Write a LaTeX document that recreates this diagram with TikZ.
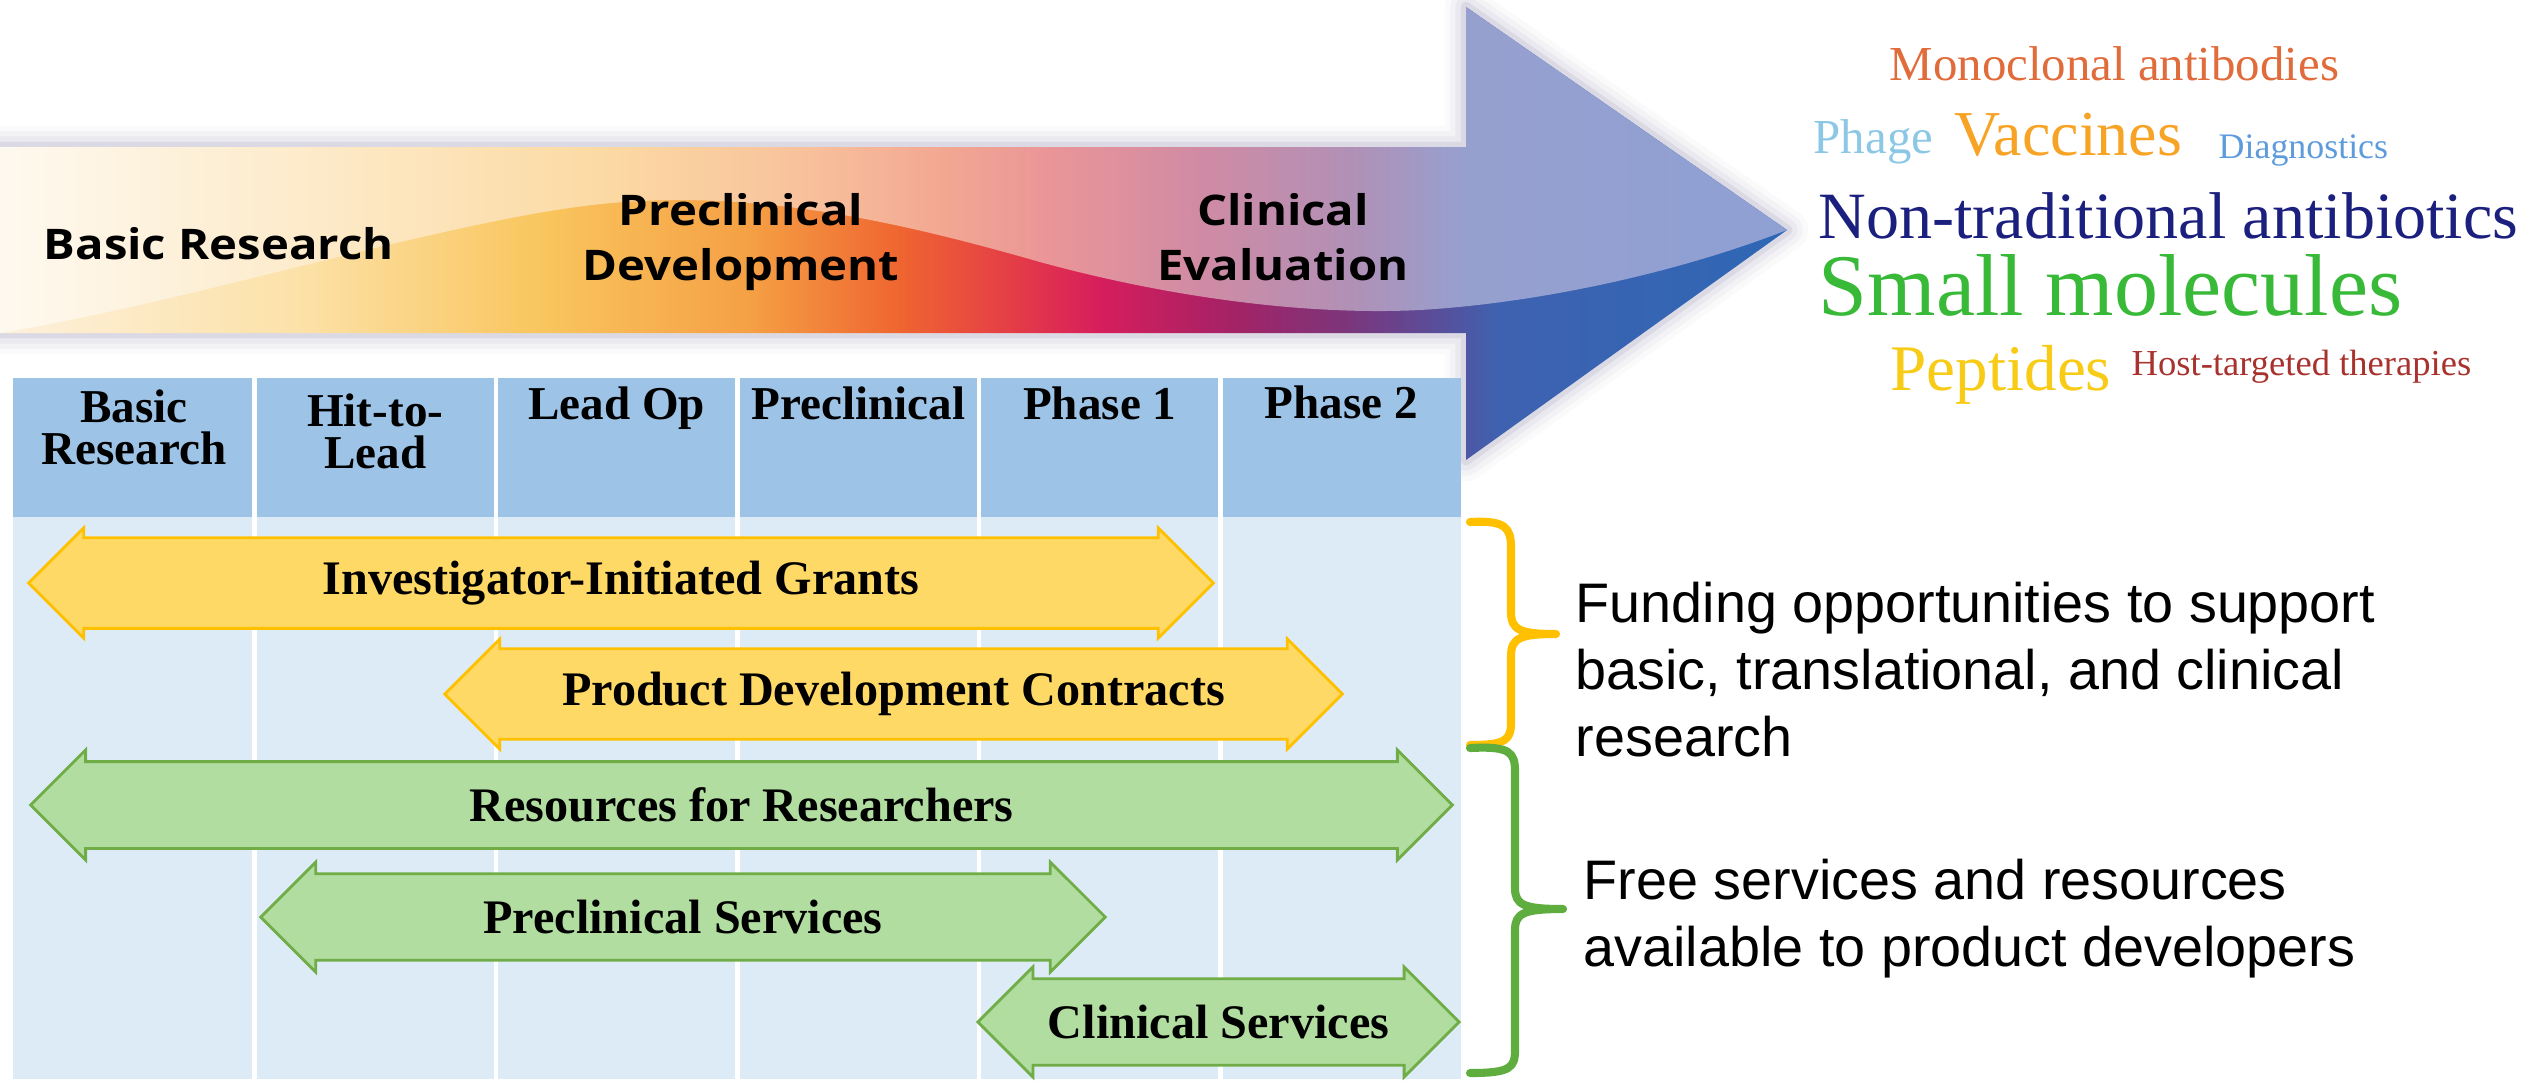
\documentclass[tikz,border=0pt]{standalone}
\usepackage{fontspec}
\setmainfont{Liberation Serif}
\newfontfamily\notefont{Liberation Sans}
\newfontfamily\stagefont{Open Sans}[FakeStretch=1.12]
\newfontfamily\cloudfont{Liberation Serif}
\usetikzlibrary{shapes.arrows}
\definecolor{headblue}{RGB}{157,195,230}
\definecolor{bodyblue}{RGB}{221,235,247}
\definecolor{fundfill}{RGB}{255,217,102}
\definecolor{fundline}{RGB}{255,192,0}
\definecolor{servfill}{RGB}{177,221,160}
\definecolor{servline}{RGB}{112,173,71}
\definecolor{bracegreen}{RGB}{94,173,62}
\definecolor{glow}{RGB}{90,80,130}
%% colours of the stage arrow, saturated band
\definecolor{lowA}{HTML}{FDF1DC}
\definecolor{lowB}{HTML}{FCE1A8}
\definecolor{lowC}{HTML}{F9C65E}
\definecolor{lowD}{HTML}{F5A044}
\definecolor{lowE}{HTML}{EF6530}
\definecolor{lowF}{HTML}{E33A48}
\definecolor{lowG}{HTML}{D61E5C}
\definecolor{lowH}{HTML}{A52266}
\definecolor{lowI}{HTML}{7E3479}
\definecolor{lowJ}{HTML}{5C4C98}
\definecolor{lowK}{HTML}{3E62B0}
\definecolor{lowL}{HTML}{2E67B5}
%% light part above the wave
\definecolor{highA}{HTML}{FEF9EF}
\definecolor{highB}{HTML}{FDEBCB}
\definecolor{highC}{HTML}{FCDAA4}
\definecolor{highD}{HTML}{F8C29C}
\definecolor{highE}{HTML}{F2A692}
\definecolor{highF}{HTML}{EA9598}
\definecolor{highG}{HTML}{D08BA4}
\definecolor{highH}{HTML}{B190B6}
\definecolor{highI}{HTML}{96A0CF}
\definecolor{highJ}{HTML}{8FA0D3}
%% word cloud
\definecolor{monoclr}{RGB}{224,108,60}
\definecolor{phageclr}{RGB}{140,200,230}
\definecolor{vaccclr}{RGB}{247,163,37}
\definecolor{diagclr}{RGB}{93,155,220}
\definecolor{nontradclr}{RGB}{27,31,126}
\definecolor{smallclr}{RGB}{56,185,56}
\definecolor{peptclr}{RGB}{247,203,22}
\definecolor{hostclr}{RGB}{168,50,45}
\pgfdeclarehorizontalshading{stagelow}{100bp}{color(0bp)=(lowA); color(25bp)=(lowA);
  color(33.39bp)=(lowB); color(40.11bp)=(lowC); color(45.98bp)=(lowD); color(50.18bp)=(lowE);
  color(53.54bp)=(lowF); color(55.78bp)=(lowG); color(59.41bp)=(lowH); color(62.49bp)=(lowI);
  color(65.01bp)=(lowJ); color(66.97bp)=(lowK); color(75bp)=(lowL); color(100bp)=(lowL)}
\pgfdeclarehorizontalshading{stagehigh}{100bp}{color(0bp)=(highA); color(25bp)=(highA);
  color(33.39bp)=(highB); color(41.79bp)=(highC); color(47.38bp)=(highD); color(51.58bp)=(highE);
  color(54.38bp)=(highF); color(58.58bp)=(highG); color(62.78bp)=(highH); color(65.99bp)=(highI);
  color(75bp)=(highJ); color(100bp)=(highJ)}
\tikzstyle{phase}=[anchor=north, align=center, inner sep=0pt, font=\fontsize{13.4}{12}\selectfont\bfseries]
\tikzstyle{bar}=[shape=double arrow, double arrow tip angle=90, double arrow head extend=0.05cm, minimum width=1.1cm, inner sep=0pt, line width=0.8pt, font=\fontsize{13.7}{16}\selectfont\bfseries]
\tikzstyle{funding}=[bar, fill=fundfill, draw=fundline]
\tikzstyle{service}=[bar, fill=servfill, draw=servline]
\tikzstyle{stage}=[align=center, inner sep=0pt, font=\stagefont\fontsize{12}{15.6}\selectfont\bfseries]
\tikzstyle{note}=[anchor=north west, align=left, inner sep=0pt, font=\notefont\fontsize{15.85}{19.1}\selectfont]
\tikzstyle{cloud}=[anchor=base west, inner sep=0pt]
\tikzstyle{brace}=[line width=2.3pt, line cap=round, line join=round]
\begin{document}
\begin{tikzpicture}[x=0.01cm, y=-0.01cm]
  \useasboundingbox (0,0) rectangle (2522,1081);

  %% Stage arrow
  \foreach \w/\o in {12/0.03,9/0.04,6/0.06,3/0.1}
    \draw[glow, line width=\w pt, opacity=\o, line join=round] (0,147) -- (1466,147) -- (1466,7) -- (1787,230) -- (1466,460) -- (1466,333) -- (0,333) -- cycle;
  \shade[shading=stagelow] (0,147) -- (1466,147) -- (1466,7) -- (1787,230) -- (1466,460) -- (1466,333) -- (0,333) -- cycle;
  \shade[shading=stagehigh] (0,147) -- (1466,147) -- (1466,7) -- (1787,230)
    .. controls (1680,272) and (1540,303) .. (1420,310)
    .. controls (1300,316) and (1160,295) .. (1040,262)
    .. controls (900,222) and (760,190) .. (612,203)
    .. controls (460,216) and (200,300) .. (0,333) -- cycle;

  \draw (43,227) node[stage, anchor=north west] (basic) {Basic Research};
  \draw (741,193) node[stage, anchor=north] (precl) {Preclinical\\Development};
  \draw (1283,193) node[stage, anchor=north] (clin) {Clinical\\Evaluation};

  %% Table of phases
  \fill[headblue] (13,378) rectangle (1461,517);
  \fill[bodyblue] (13,517) rectangle (1461,1079);
  \foreach \i in {1,...,5}
    \draw[white, line width=1.15pt] ({13+241.5*\i},378) -- ({13+241.5*\i},1079);

  \draw (133.75,389) node[phase] (h1) {Basic\\Research};
  \draw (375.25,393) node[phase] (h2) {Hit-to-\\Lead};
  \draw (616.75,386) node[phase] (h3) {Lead Op};
  \draw (858.25,386) node[phase] (h4) {Preclinical};
  \draw (1099.75,386) node[phase] (h5) {Phase 1};
  \draw (1341.25,385) node[phase] (h6) {Phase 2};

  %% Funding and services
  \draw (621,583) node[funding, minimum height=11.84cm] (grants) {Investigator-Initiated Grants};
  \draw (893.5,694) node[funding, minimum height=8.97cm] (contracts) {Product Development Contracts};
  \draw (741.5,805) node[service, minimum height=14.21cm] (resources) {Resources for Researchers};
  \draw (683,917) node[service, minimum height=8.44cm] (preserv) {Preclinical Services};
  \draw (1218.5,1022) node[service, minimum height=4.81cm] (cliserv) {Clinical Services};

  %% Braces
  \draw[brace, fundline] (1470,522) .. controls (1506,520) and (1511,528) .. (1511,548) -- (1511,612)
    .. controls (1511,630) and (1520,634) .. (1556,634) .. controls (1520,634) and (1511,638) .. (1511,656)
    -- (1511,722) .. controls (1511,740) and (1506,745) .. (1470,745);
  \draw[brace, bracegreen] (1470,748) .. controls (1510,746) and (1515,752) .. (1515,772) -- (1515,888)
    .. controls (1515,905) and (1524,909) .. (1563,909) .. controls (1524,909) and (1515,913) .. (1515,930)
    -- (1515,1050) .. controls (1515,1068) and (1510,1073) .. (1470,1073);

  \draw (1575,581) node[note] (fundnote) {Funding opportunities to support\\basic, translational, and clinical\\research};
  \draw (1583,858) node[note] (freenote) {Free services and resources\\available to product developers};

  %% Word cloud
  \draw (1889,80) node[cloud, text=monoclr, font=\cloudfont\fontsize{13.9}{14}\selectfont] (mono) {Monoclonal antibodies};
  \draw (1813,153) node[cloud, text=phageclr, font=\cloudfont\fontsize{13.9}{14}\selectfont] (phage) {Phage};
  \draw (1954,155) node[cloud, text=vaccclr, font=\cloudfont\fontsize{18.2}{18}\selectfont] (vacc) {Vaccines};
  \draw (2218,158) node[cloud, text=diagclr, font=\cloudfont\fontsize{10.2}{10}\selectfont] (diag) {Diagnostics};
  \draw (1818,238) node[cloud, text=nontradclr, font=\cloudfont\fontsize{18.8}{19}\selectfont] (nontrad) {Non-traditional antibiotics};
  \draw (1818,315) node[cloud, text=smallclr, font=\cloudfont\fontsize{25}{25}\selectfont] (small) {Small molecules};
  \draw (1890,390) node[cloud, text=peptclr, font=\cloudfont\fontsize{18.5}{18}\selectfont] (pept) {Peptides};
  \draw (2131,375) node[cloud, text=hostclr, font=\cloudfont\fontsize{10.4}{10}\selectfont] (host) {Host-targeted therapies};
\end{tikzpicture}
\end{document}
